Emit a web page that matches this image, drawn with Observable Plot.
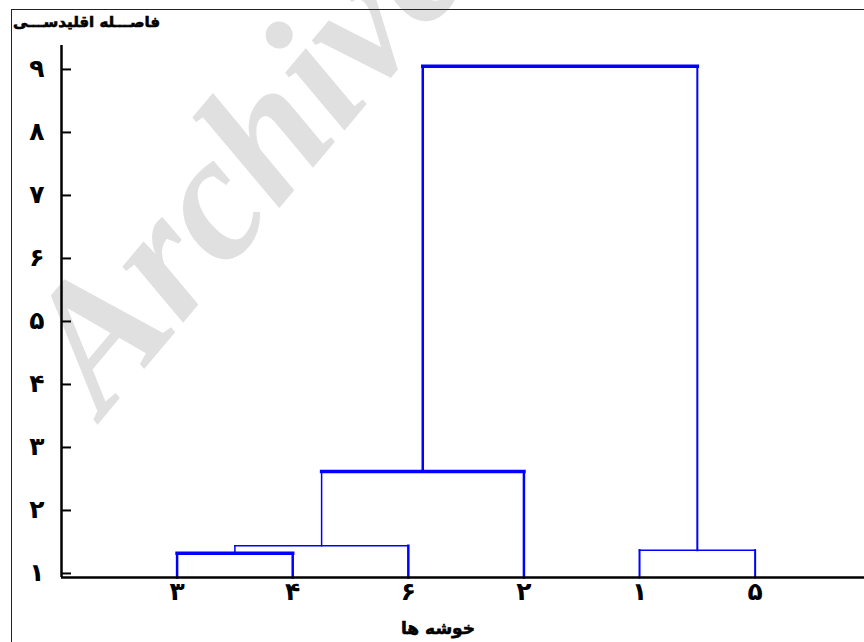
<!DOCTYPE html>
<html lang="fa">
<head>
<meta charset="utf-8">
<script src="https://cdn.jsdelivr.net/npm/d3@7"></script>
<script src="https://cdn.jsdelivr.net/npm/@observablehq/plot@0.6"></script>
<style>
  html, body { margin: 0; padding: 0; background: #fff; }
  #wrap { position: relative; width: 864px; height: 642px; overflow: hidden; }
  #frame { position: absolute; left: 11px; top: 9px; right: -2px; bottom: -2px;
           border-left: 1px solid #222; border-top: 1px solid #222; pointer-events: none; }
  #chart { position: absolute; left: 0; top: 0; }
  .ttl { position: absolute; font-family: "DejaVu Sans", sans-serif; font-weight: bold;
         color: #000; white-space: nowrap; direction: rtl;
         -webkit-text-stroke: 0.6px #000; }
  #ytitle { right: 704px; top: 13px; font-size: 15px; }
  #xtitle { left: 438px; top: 618px; font-size: 17px; transform: translateX(-50%); }
</style>
</head>
<body>
<div id="wrap">
  <div id="chart"></div>
  <div id="frame"></div>
  <div class="ttl" id="ytitle">فاصـــله اقلیدســـی</div>
  <div class="ttl" id="xtitle">خوشه ها</div>
</div>
<script>
// Leaves of the dendrogram, in display order (left to right)
const leaves = ["۳", "۴", "۶", "۲", "۱", "۵"];

// Agglomeration steps: which two clusters join, and at what Euclidean distance
const mergeIds    = ["A", "B", "C", "D", "E"];
const mergeLeft   = ["۳", "A", "B", "۱", "C"];
const mergeRight  = ["۴", "۶", "۲", "۵", "D"];
const mergeHeight = [1.32, 1.44, 2.62, 1.37, 9.05];

// Line weights for each step: [left leg, crossbar, right leg]
const mergeWeights = [
  [2.5, 3.5, 2.5],
  [1.5, 1.5, 2.5],
  [1.5, 3.5, 2.5],
  [2, 1.5, 2],
  [2.5, 3.5, 2]
];

// Y axis ticks and their Persian labels
const yTicks = [1, 2, 3, 4, 5, 6, 7, 8, 9];
const yTickLabels = ["۱", "۲", "۳", "۴", "۵", "۶", "۷", "۸", "۹"];

const yMin = 0.936, yMax = 9.38;

// Resolve node positions: leaves sit on the baseline, merges at their height
const pos = new Map();
leaves.forEach((l, i) => pos.set(l, {x: i + 1, y: yMin}));
const segments = [];
mergeIds.forEach((id, i) => {
  const L = pos.get(mergeLeft[i]);
  const R = pos.get(mergeRight[i]);
  const h = mergeHeight[i];
  const [wl, wh, wr] = mergeWeights[i];
  segments.push({x1: L.x, y1: L.y, x2: L.x, y2: h, w: wl});
  segments.push({x1: L.x, y1: h, x2: R.x, y2: h, w: wh});
  segments.push({x1: R.x, y1: R.y, x2: R.x, y2: h, w: wr});
  pos.set(id, {x: (L.x + R.x) / 2, y: h});
});

const persianFont = "DejaVu Sans";

const chart = Plot.plot({
  width: 864,
  height: 642,
  marginLeft: 61,
  marginRight: 0,
  marginTop: 45,
  marginBottom: 65,
  x: {domain: [0, 6.946], axis: null},
  y: {domain: [yMin, yMax], axis: null},
  marks: [
    // faint diagonal watermark behind the chart
    Plot.text(["Archive"], {
      frameAnchor: "top-left",
      dx: 42, dy: 372,
      text: d => d,
      rotate: -50,
      textAnchor: "start",
      lineAnchor: "bottom",
      fontFamily: "Liberation Serif",
      fontWeight: "bold",
      fontStyle: "italic",
      fontSize: 180,
      fill: "#e0e0e0"
    }),
    // dendrogram branches
    Plot.link(segments, {
      x1: "x1", y1: "y1", x2: "x2", y2: "y2",
      stroke: "#0000ff",
      strokeWidth: "w",
      strokeLinecap: "square"
    }),
    // axis lines
    Plot.ruleY([yMin], {stroke: "#000", strokeWidth: 2.5}),
    Plot.ruleX([0], {stroke: "#000", strokeWidth: 2.5}),
    // y ticks pointing inward, with Persian numerals
    Plot.axisY(yTicks, {
      tickSize: -10,
      tickPadding: 27,
      strokeWidth: 2,
      tickFormat: d => yTickLabels[yTicks.indexOf(d)],
      fontFamily: persianFont,
      fontWeight: "bold",
      fontSize: 25,
      fill: "#000",
      stroke: "#000",
      label: null
    }),
    // leaf labels along the x axis
    Plot.axisX(leaves.map((_, i) => i + 1), {
      tickSize: 0,
      tickPadding: 5,
      tickFormat: d => leaves[d - 1],
      fontFamily: persianFont,
      fontWeight: "bold",
      fontSize: 25,
      fill: "#000",
      stroke: "#000",
      strokeWidth: 0.8,
      label: null
    })
  ]
});

document.getElementById("chart").appendChild(chart);
</script>
</body>
</html>
